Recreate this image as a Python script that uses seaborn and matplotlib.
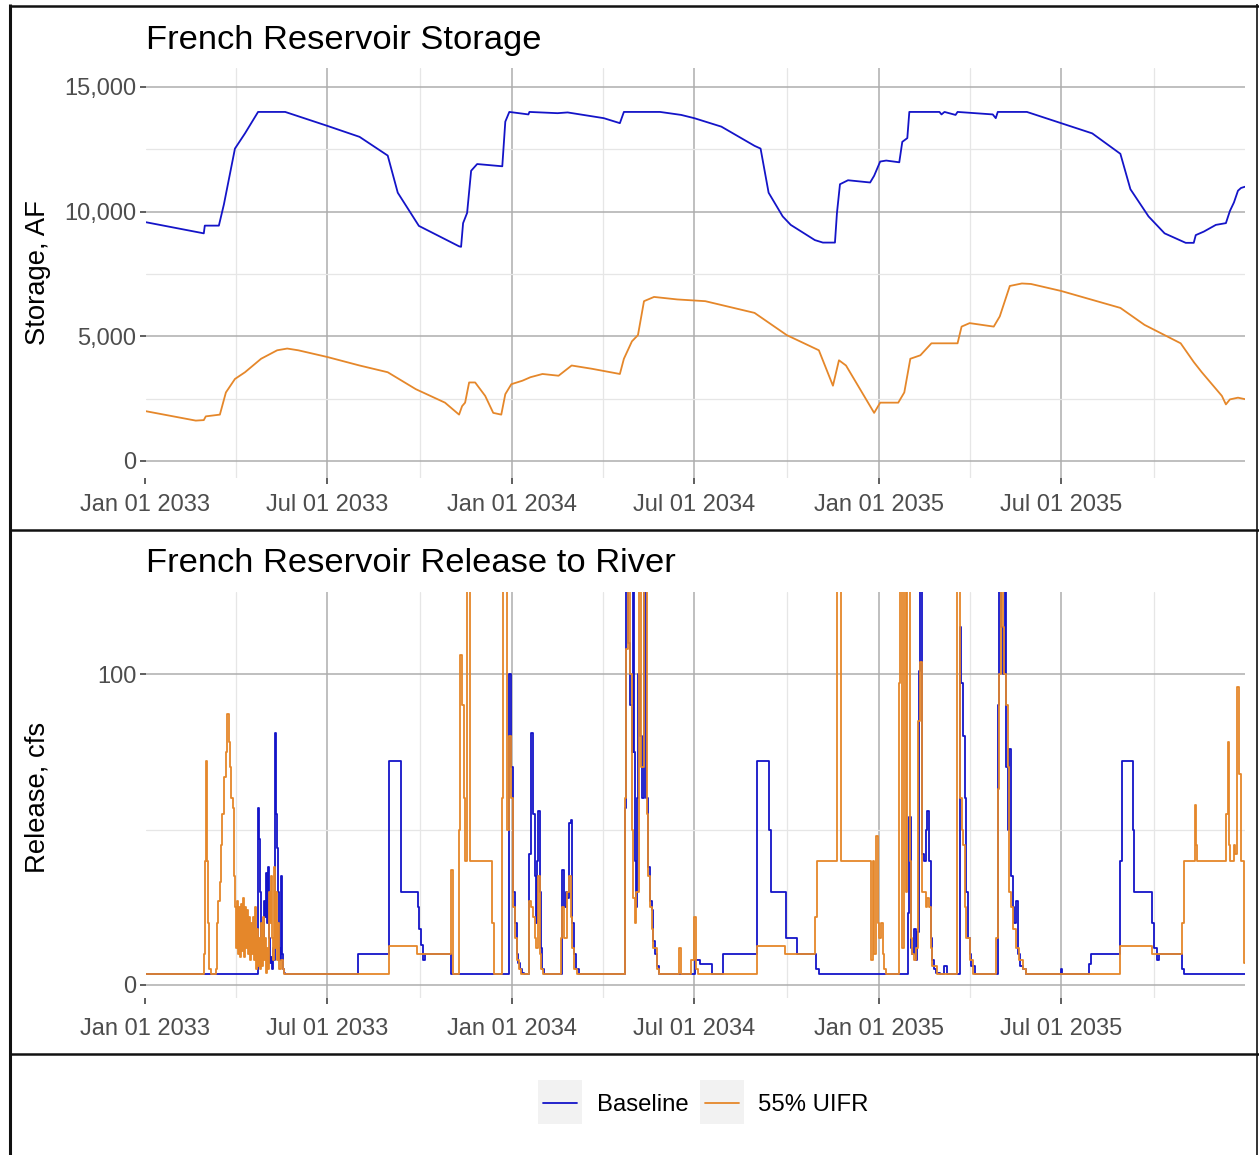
import numpy as np
import pandas as pd
import matplotlib
matplotlib.use("Agg")
import matplotlib.pyplot as plt
import matplotlib.dates as mdates
from matplotlib.lines import Line2D
from matplotlib.patches import Rectangle
import seaborn as sns

# ---------------- data (day offsets from 2033-01-01) ----------------
start_date = "2033-01-01"
scenarios = ["Baseline", "55% UIFR"]
colors = ["#1414C8", "#E5872A"]

stor_base_days = [0, 58, 59, 73, 78, 89, 99, 112, 139, 181, 213, 241, 251, 272, 312, 314, 316, 320, 324, 330,
                  355, 358, 362, 381, 382, 410, 420, 456, 472, 476, 512, 533, 546, 573, 606, 612, 620, 634, 642,
                  666, 674, 686, 688, 691, 699, 721, 725, 731, 737, 750, 753, 758, 760, 790, 792, 795, 806, 808,
                  843, 846, 848, 877, 911, 942, 970, 980, 998, 1014, 1035, 1043, 1045, 1053, 1065, 1075, 1079,
                  1083, 1087, 1090, 1094]
stor_base_vals = [9580, 9130, 9440, 9440, 10290, 12530, 13140, 14000, 14000, 13440, 13000, 12250, 10760, 9430,
                  8610, 8590, 9540, 9950, 11640, 11910, 11820, 13610, 14000, 13900, 14000, 13950, 13980, 13750,
                  13550, 14000, 14000, 13880, 13750, 13410, 12640, 12530, 10760, 9810, 9470, 8860, 8760, 8760,
                  9950, 11100, 11260, 11170, 11440, 12010, 12050, 11980, 12800, 12950, 14000, 14000, 13900,
                  14000, 13880, 14000, 13900, 13750, 14000, 14000, 13550, 13140, 12320, 10900, 9810, 9130, 8750,
                  8750, 9060, 9200, 9470, 9540, 10030, 10370, 10840, 10950, 11000]

stor_uifr_days = [0, 50, 58, 60, 74, 80, 89, 99, 115, 131, 141, 152, 181, 213, 241, 269, 298, 312, 315, 318, 322,
                  328, 338, 346, 354, 358, 364, 375, 383, 395, 411, 424, 444, 472, 476, 484, 490, 496, 506, 529,
                  557, 606, 638, 670, 684, 690, 697, 725, 731, 749, 755, 761, 771, 782, 808, 812, 820, 844, 850,
                  860, 872, 881, 911, 970, 994, 1030, 1043, 1051, 1071, 1075, 1079, 1087, 1094]
stor_uifr_vals = [2000, 1620, 1640, 1790, 1860, 2750, 3290, 3560, 4100, 4440, 4510, 4440, 4170, 3830, 3560, 2880,
                  2340, 1860, 2200, 2340, 3150, 3150, 2610, 1930, 1860, 2680, 3080, 3220, 3360, 3490, 3420, 3830,
                  3700, 3490, 4100, 4800, 5050, 6410, 6580, 6480, 6410, 5940, 5050, 4440, 3020, 4040, 3830, 1930,
                  2340, 2340, 2750, 4100, 4240, 4720, 4720, 5390, 5530, 5390, 5800, 7020, 7120, 7100, 6820, 6140,
                  5460, 4720, 3970, 3560, 2610, 2270, 2470, 2540, 2480]

rel_base_days = [0, 112, 113, 114, 115, 116, 117, 118, 119, 120, 121, 122, 123, 124, 125, 126, 127, 128, 129, 130,
                 131, 132, 133, 134, 135, 136, 137, 138, 139, 211, 242, 254, 271, 272, 274, 276, 278, 304, 362,
                 364, 366, 368, 370, 371, 373, 375, 377, 382, 384, 386, 388, 389, 390, 391, 393, 394, 395, 397,
                 414, 416, 418, 419, 421, 423, 424, 426, 428, 431, 477, 478, 480, 482, 484, 485, 486, 487, 488,
                 489, 490, 492, 494, 496, 498, 500, 502, 504, 505, 507, 509, 511, 547, 552, 564, 575, 608, 620,
                 622, 637, 648, 667, 670, 759, 760, 762, 763, 765, 767, 768, 770, 771, 773, 775, 777, 778, 780,
                 782, 783, 785, 787, 791, 795, 797, 810, 811, 813, 815, 816, 818, 820, 821, 825, 848, 849, 851,
                 853, 855, 856, 858, 859, 861, 863, 864, 866, 868, 870, 873, 876, 911, 912, 939, 941, 970, 972,
                 983, 984, 1001, 1003, 1006, 1008, 1031, 1033, 1094]
rel_base_vals = [3.5, 57, 47, 30, 12, 18, 10, 27, 22, 36, 20, 38, 15, 7, 9, 5, 12, 8, 81, 55,
                 44, 30, 12, 8, 35, 10, 5, 4, 3.5, 10, 72, 30, 25, 18, 13, 8, 10, 3.5, 100,
                 70, 30, 20, 10, 7, 5, 4, 3.5, 42, 81, 55, 35, 20, 40, 56, 30, 12, 5, 3.5,
                 37, 25, 30, 28, 52, 53, 20, 10, 5, 3.5, 57, 140, 110, 90, 75, 140, 75, 40, 25,
                 60, 100, 80, 60, 140, 60, 38, 27, 24, 14, 10, 6, 3.5, 8, 6.7, 3.5, 10, 72, 50,
                 30, 15, 10, 5, 3.5, 23, 54, 12, 10, 18, 8, 17, 101, 140, 42, 40, 50, 56, 40,
                 15, 8, 5, 4, 3.5, 6, 3.5, 115, 97, 80, 60, 30, 15, 10, 6, 3.5, 90, 140, 115,
                 100, 140, 70, 50, 76, 35, 25, 20, 27, 10, 6, 5, 3.5, 5, 3.5, 6.7, 10, 40, 72,
                 50, 30, 20, 12, 8, 10, 5, 3.5, 3.5]

rel_uifr_days = [0, 58, 59, 60, 61, 62, 63, 65, 70, 71, 72, 74, 75, 76, 78, 80, 81, 83, 84, 85, 87, 88, 89, 90,
                 91, 92, 93, 94, 95, 96, 97, 98, 99, 100, 101, 102, 103, 104, 105, 106, 107, 108, 109, 110, 111,
                 112, 113, 114, 115, 116, 117, 118, 119, 120, 121, 122, 123, 124, 125, 126, 127, 128, 129, 130,
                 131, 132, 133, 135, 137, 138, 242, 270, 304, 306, 312, 313, 315, 317, 318, 320, 323, 345, 347,
                 355, 356, 360, 362, 364, 366, 368, 370, 372, 374, 382, 384, 386, 388, 389, 391, 393, 394, 396,
                 413, 414, 416, 419, 421, 423, 424, 426, 429, 477, 478, 480, 482, 484, 485, 487, 488, 491, 493,
                 496, 499, 500, 502, 504, 505, 509, 511, 531, 533, 543, 546, 548, 550, 608, 636, 666, 668, 688,
                 692, 722, 724, 725, 727, 729, 730, 732, 734, 735, 737, 750, 751, 753, 755, 757, 758, 761, 762,
                 763, 765, 767, 769, 771, 773, 777, 778, 780, 782, 783, 788, 807, 810, 812, 813, 815, 816, 820,
                 823, 846, 848, 849, 851, 853, 854, 856, 858, 859, 861, 863, 866, 869, 873, 876, 970, 1001, 1031,
                 1033, 1044, 1045, 1046, 1075, 1077, 1078, 1079, 1083, 1084, 1086, 1088, 1090, 1093, 1094]
rel_uifr_vals = [3.5, 10, 40, 72, 40, 20, 5, 3.5, 5, 20, 27, 33, 45, 55, 67, 75, 87, 78, 70, 60, 57, 35, 25, 12,
                 27, 10, 25, 9, 26, 11, 28, 9, 25, 12, 24, 10, 22, 8, 20, 10, 22, 8, 25, 5, 18,
                 6, 15, 5, 20, 6, 22, 8, 15, 4, 12, 5, 30, 20, 35, 15, 8, 38, 12, 30,
                 8, 20, 5, 8, 5, 3.5, 12.4, 10, 37, 3.5, 50, 106, 90, 60, 40, 140, 40, 20, 3.5,
                 60, 140, 50, 80, 60, 25, 15, 8, 5, 3.5, 27, 25, 22, 15, 12, 35, 10, 5, 3.5,
                 15, 25, 15, 30, 35, 22, 12, 5, 3.5, 60, 108, 140, 100, 50, 28, 20, 30, 140, 70,
                 140, 55, 35, 25, 18, 12, 5, 3.5, 12, 3.5, 8, 22, 5, 3.5, 12.4, 10, 22, 40, 140,
                 40, 8, 40, 10, 48, 20, 15, 20, 10, 5, 3.5, 97, 140, 12, 140, 30, 140, 40, 15,
                 10, 8, 12, 85, 104, 30, 25, 28, 25, 12, 6, 3.5, 140, 60, 50, 45, 25, 15, 8,
                 3.5, 15, 63, 100, 140, 115, 100, 90, 70, 30, 25, 18, 12, 8, 5, 3.5, 12.4, 10, 20,
                 40, 58, 45, 40, 55, 78, 45, 40, 45, 42, 96, 68, 40, 7, 7]

storage_yticks = [0, 5000, 10000, 15000]
storage_yticklabels = ["0", "5,000", "10,000", "15,000"]
release_yticks = [0, 100]
release_yticklabels = ["0", "100"]


def make_df(days_a, vals_a, days_b, vals_b):
    t0 = pd.Timestamp(start_date)
    a = pd.DataFrame({"date": t0 + pd.to_timedelta(days_a, unit="D"), "value": vals_a, "scenario": scenarios[0]})
    b = pd.DataFrame({"date": t0 + pd.to_timedelta(days_b, unit="D"), "value": vals_b, "scenario": scenarios[1]})
    return pd.concat([a, b], ignore_index=True)


storage_df = make_df(stor_base_days, stor_base_vals, stor_uifr_days, stor_uifr_vals)
release_df = make_df(rel_base_days, rel_base_vals, rel_uifr_days, rel_uifr_vals)
palette = dict(zip(scenarios, colors))

# ---------------- figure ----------------
sns.set_theme(style="white")
plt.rcParams["font.family"] = ["Liberation Sans", "DejaVu Sans"]

W, H = 1259, 1155
fig = plt.figure(figsize=(W / 100, H / 100), dpi=100)


def px_axes(x0, y0, x1, y1):
    return fig.add_axes([x0 / W, 1 - y1 / H, (x1 - x0) / W, (y1 - y0) / H])


ax1 = px_axes(145.5, 68, 1245, 478)
ax2 = px_axes(145.5, 592, 1245, 998)

sns.lineplot(data=storage_df, x="date", y="value", hue="scenario", hue_order=scenarios, palette=palette,
             estimator=None, legend=False, linewidth=1.3, ax=ax1)
sns.lineplot(data=release_df, x="date", y="value", hue="scenario", hue_order=scenarios, palette=palette,
             estimator=None, legend=False, linewidth=1.3, drawstyle="steps-post", ax=ax2)

xmin = pd.Timestamp(start_date)
xmax = pd.Timestamp("2035-12-31")
for ax in (ax1, ax2):
    ax.set_xlim(xmin, xmax)
    ax.xaxis.set_major_locator(mdates.MonthLocator(bymonth=[1, 7], bymonthday=1))
    ax.xaxis.set_major_formatter(mdates.DateFormatter("%b %d %Y"))
    ax.xaxis.set_minor_locator(mdates.MonthLocator(bymonth=[4, 10], bymonthday=1))
    for s in ax.spines.values():
        s.set_visible(False)
    ax.grid(True, which="major", color="#adadad", linewidth=1.1)
    ax.grid(True, which="minor", color="#e6e6e6", linewidth=0.9)
    ax.set_axisbelow(True)
    ax.tick_params(which="major", length=4.5, width=1.1, color="#333333", labelsize=17,
                   labelcolor="#4d4d4d", pad=2, bottom=True, left=True)
    ax.tick_params(which="minor", length=0, bottom=False, left=False)
    ax.set_xlabel("")
    ax.set_ylabel("")
    ax.patch.set_facecolor("white")

ax1.tick_params(axis="x", which="major", pad=7)
ax2.tick_params(axis="x", which="major", pad=10)

ax1.set_ylim(-682, 15762)
ax1.set_yticks(storage_yticks)
ax1.set_yticklabels(storage_yticklabels)
ax1.set_yticks([2500, 7500, 12500], minor=True)

ax2.set_ylim(-4.2, 126.4)
ax2.set_yticks(release_yticks)
ax2.set_yticklabels(release_yticklabels)
ax2.set_yticks([50], minor=True)

# titles and axis titles
fig.text(146 / W, 1 - 40 / H, "French Reservoir Storage", fontsize=24.8, color="black", ha="left", va="center")
fig.text(146 / W, 1 - 564 / H, "French Reservoir Release to River", fontsize=24.8, color="black",
         ha="left", va="center")
fig.text(38 / W, 1 - 273 / H, "Storage, AF", fontsize=19.8, color="black", rotation=90, ha="center", va="center")
fig.text(38 / W, 1 - 797 / H, "Release, cfs", fontsize=19.8, color="black", rotation=90, ha="center", va="center")

# overlay for frame and legend
ov = fig.add_axes([0, 0, 1, 1])
ov.set_xlim(0, W)
ov.set_ylim(H, 0)
ov.axis("off")
ov.patch.set_alpha(0)

frame_kw = dict(color="#111111", solid_capstyle="butt")
ov.add_line(Line2D([10.5, 10.5], [4, H], linewidth=2.2, **frame_kw))
ov.add_line(Line2D([9, 1259], [5.5, 5.5], linewidth=1.8, **frame_kw))
ov.add_line(Line2D([1257.5, 1257.5], [4, H], linewidth=1.2, **frame_kw))
ov.add_line(Line2D([9, 1259], [530, 530], linewidth=1.8, **frame_kw))
ov.add_line(Line2D([9, 1259], [1053.5, 1053.5], linewidth=1.8, **frame_kw))

# legend
leg_boxes = [(538, "Baseline", 597), (700, "55% UIFR", 758)]
for (bx, label, tx), col in zip(leg_boxes, colors):
    ov.add_patch(Rectangle((bx, 1080), 44, 44, facecolor="#f2f2f2", edgecolor="none"))
    ov.add_line(Line2D([bx + 5, bx + 39], [1103, 1103], color=col, linewidth=1.3))
    ov.text(tx, 1105, label, fontsize=17.2, color="black", ha="left", va="center")

fig.savefig("out.png", dpi=100)
